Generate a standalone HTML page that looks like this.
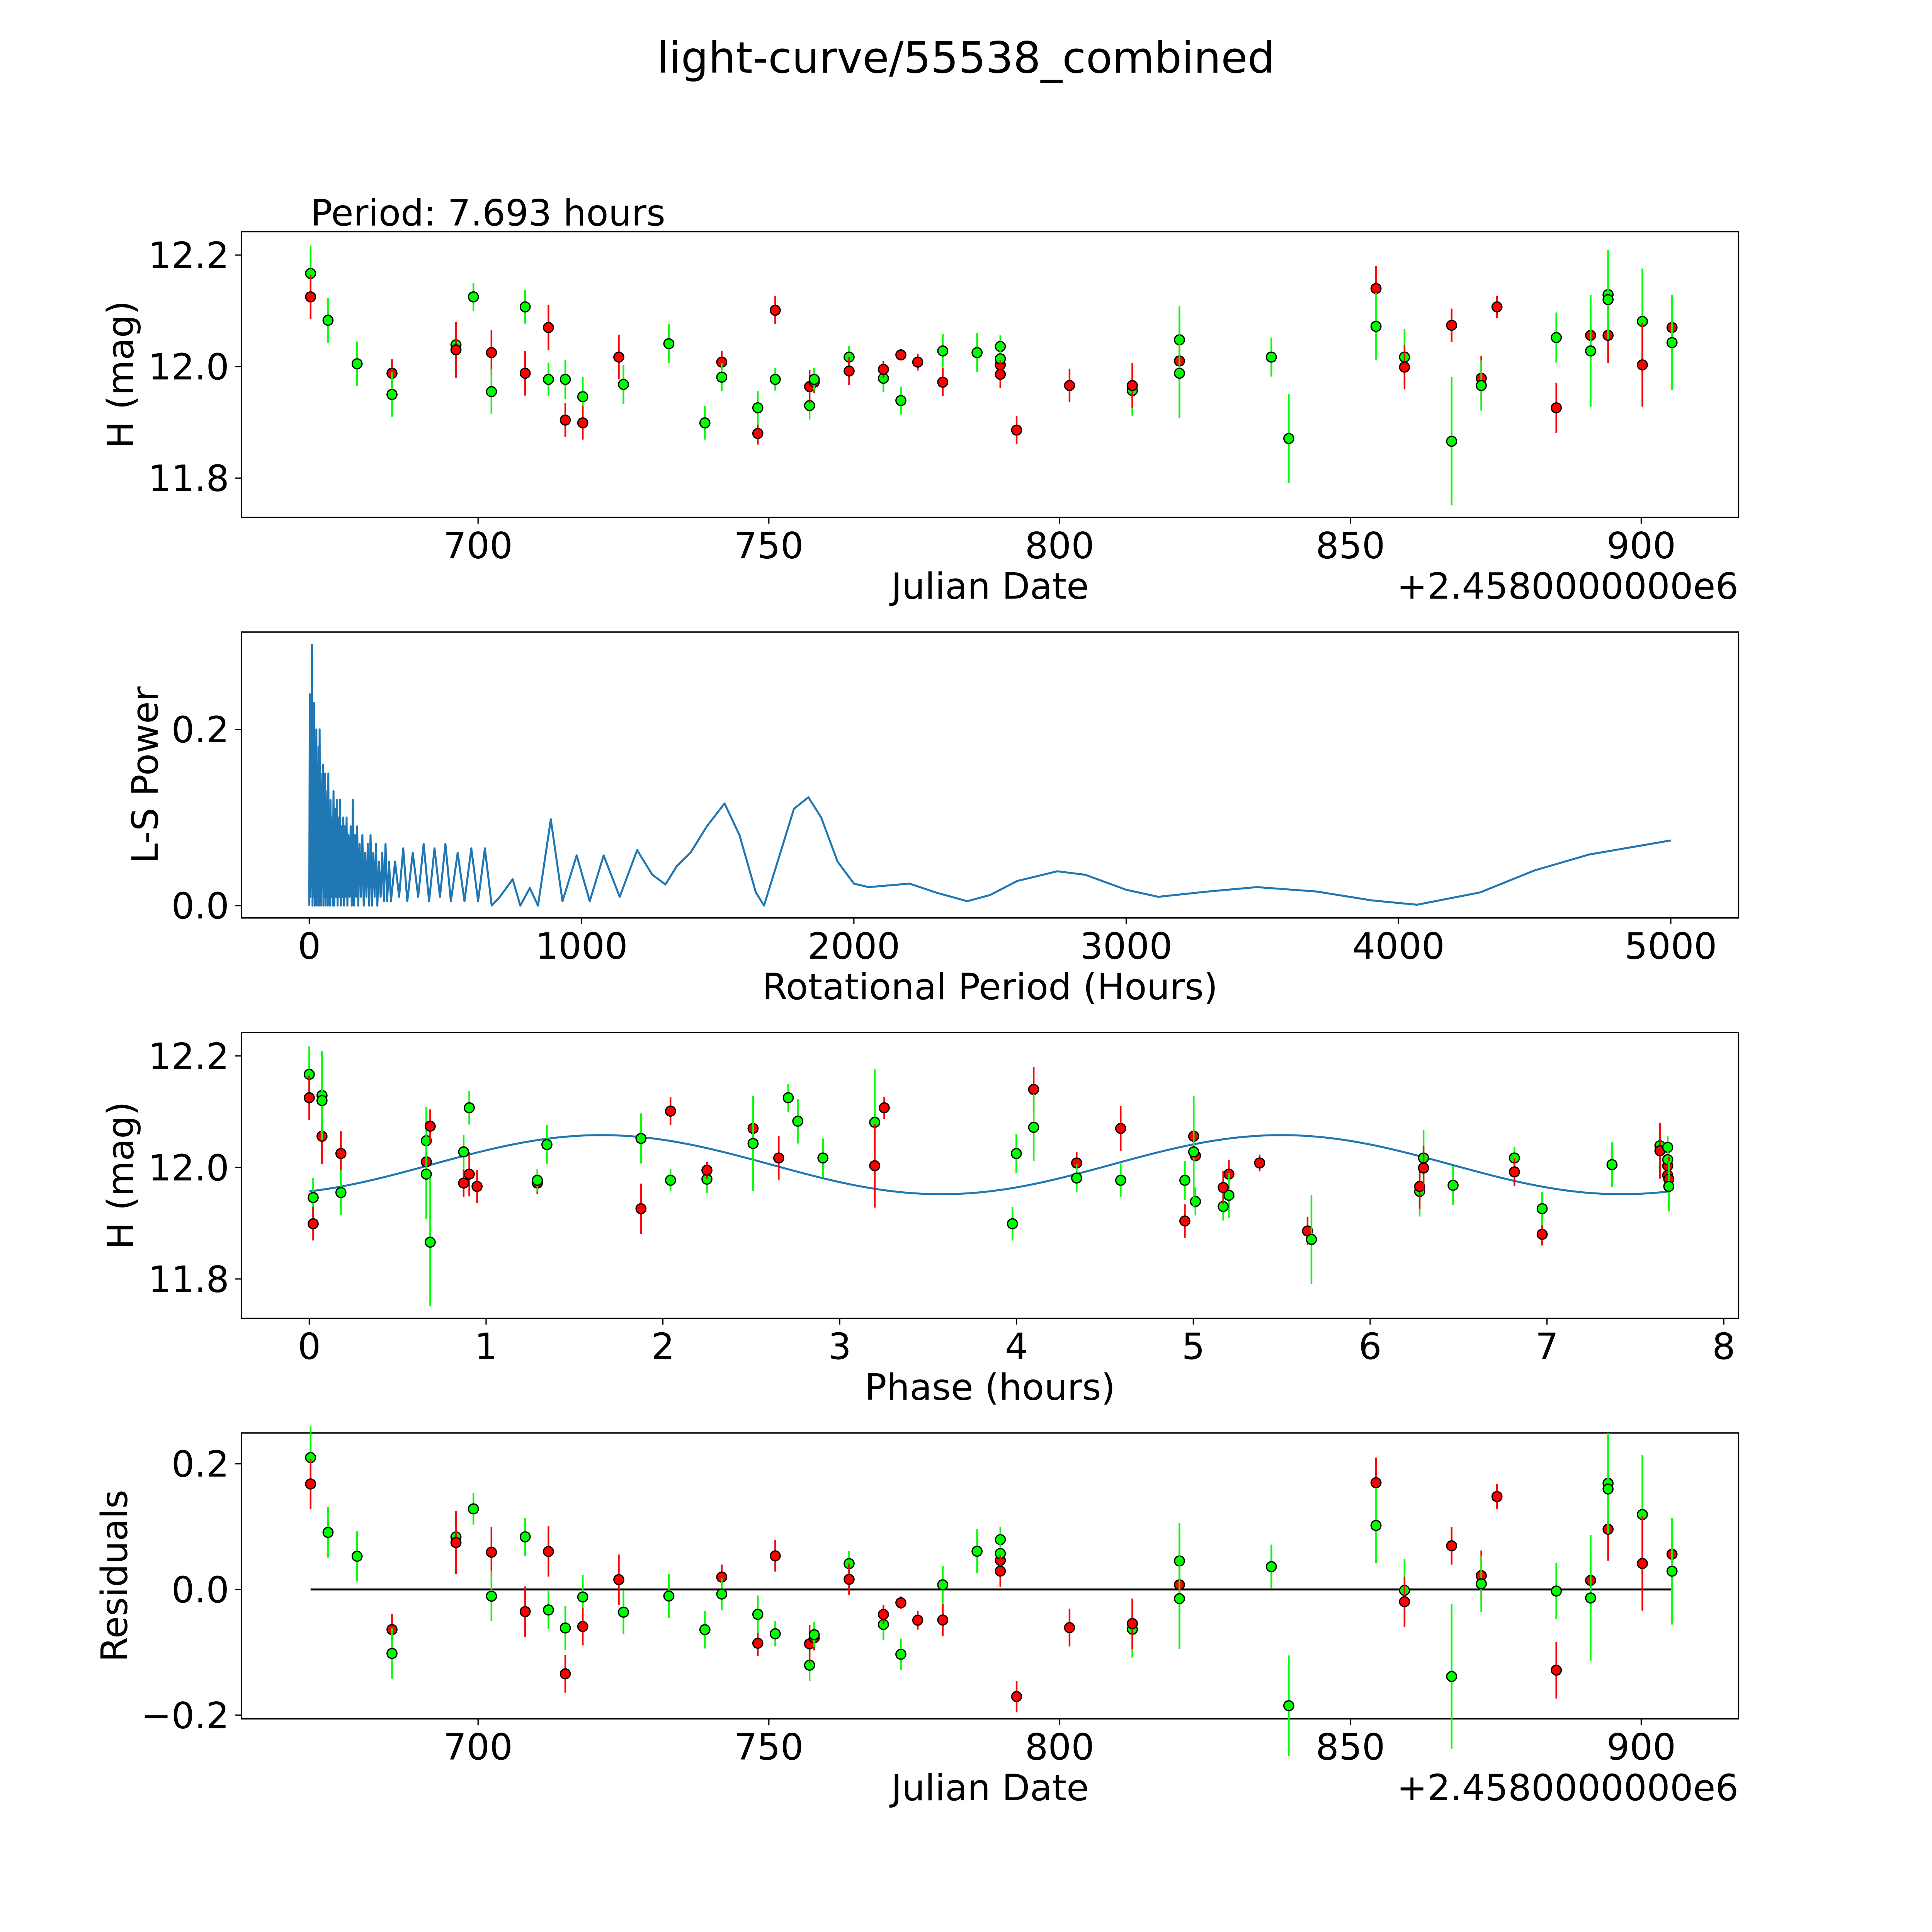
<!DOCTYPE html>
<html><head><meta charset="utf-8">
<style>
html,body{margin:0;padding:0;background:#fff;overflow:hidden;width:100vw;height:100vh;}
svg{display:block;position:fixed;left:0;top:0;width:100vw;height:100vh;font-family:"DejaVu Sans","Liberation Sans",sans-serif;}
</style></head>
<body>
<svg id="fig" viewBox="0 0 1568 1568" preserveAspectRatio="none" xmlns="http://www.w3.org/2000/svg">
<rect width="1568" height="1568" fill="#fff"/>
<text x="784" y="59" font-size="35" text-anchor="middle">light-curve/55538_combined</text>
<g id="plots"></g>
</svg>
<script>
// ---- observation data (Julian Date offset from 2458000, H mag, error, band colour) ----
const obsJD  = [671.2,671.2,674.2,679.2,685.2,685.2,696.2,696.2,699.2,702.3,702.3,708.1,708.1,712.1,712.1,715.0,715.0,718.0,718.0,724.2,725.0,732.8,739.0,741.9,741.9,748.1,748.1,751.1,751.1,757.0,757.0,757.8,757.8,763.8,763.8,769.7,769.7,772.7,772.7,775.6,779.9,779.9,785.8,789.8,789.8,789.8,789.8,792.6,801.7,812.5,812.5,820.6,820.6,820.6,836.4,839.4,854.4,854.4,859.3,859.3,867.4,867.4,872.5,872.5,875.2,885.4,885.4,891.3,891.3,894.3,894.3,894.3,900.2,900.2,905.3,905.3];
const obsMag = [12.167,12.125,12.083,12.005,11.988,11.950,12.039,12.030,12.125,12.025,11.955,12.107,11.988,12.070,11.977,11.977,11.904,11.946,11.899,12.017,11.968,12.041,11.899,12.008,11.981,11.880,11.926,12.101,11.977,11.930,11.964,11.972,11.977,12.017,11.992,11.979,11.995,12.021,11.939,12.008,12.028,11.972,12.025,12.003,12.036,12.014,11.986,11.886,11.966,11.957,11.966,12.048,12.010,11.988,12.017,11.871,12.140,12.072,12.017,11.999,12.074,11.866,11.979,11.966,12.107,12.052,11.926,12.056,12.028,12.056,12.129,12.120,12.081,12.003,12.070,12.043];
const obsErr = [0.05,0.04,0.04,0.04,0.025,0.04,0.04,0.05,0.025,0.04,0.04,0.03,0.04,0.04,0.03,0.035,0.03,0.035,0.03,0.04,0.035,0.035,0.03,0.02,0.025,0.02,0.03,0.025,0.02,0.025,0.03,0.02,0.02,0.02,0.025,0.025,0.015,0.01,0.025,0.015,0.03,0.025,0.035,0.02,0.02,0.03,0.025,0.025,0.03,0.045,0.04,0.06,0.035,0.08,0.035,0.08,0.04,0.06,0.05,0.04,0.03,0.115,0.04,0.045,0.02,0.045,0.045,0.045,0.10,0.05,0.08,0.03,0.095,0.075,0.055,0.085];
const obsBand = ["g","r","g","g","r","g","g","r","g","r","g","g","r","r","g","g","r","g","r","r","g","g","g","r","g","r","g","r","g","g","r","r","g","g","r","g","r","r","g","r","g","r","g","r","g","g","r","r","r","g","r","g","r","g","g","g","r","g","g","r","r","g","r","g","r","g","r","r","g","r","g","g","g","r","r","g"];
// ---- periodogram (period in hours, L-S power) ----
const lsPeriod = [0,2,4,6,8,10,12,14,16,18,20,22,24,26,28,30,32,34,36,38,40,42,44,46,48,50,52,54,56,58,60,62,64,66,68,70,72,74,76,78,80,83,86,89,92,95,98,101,104,107,110,113,116,119,122,125,128,131,134,137,140,144,148,152,156,160,164,168,172,176,180,185,190,195,200,205,210,215,220,225,230,235,240,245,250,256,262,268,274,280,286,293,300,315,330,345,360,380,400,420,440,460,480,500,520,545,570,595,620,645,670,700,747,775,810,840,887,930,982,1030,1081,1140,1204,1260,1308,1350,1400,1460,1525,1580,1640,1670,1720,1780,1833,1880,1940,2000,2054,2130,2204,2300,2416,2500,2600,2747,2850,3000,3118,3300,3480,3700,3900,4068,4300,4500,4700,5000];
const lsPower  = [0,0.24,0.01,0.2,0.02,0.296,0.0,0.22,0.01,0.23,0.0,0.19,0.02,0.2,0.0,0.16,0.01,0.18,0.0,0.2,0.01,0.15,0.0,0.14,0.02,0.16,0.0,0.13,0.01,0.15,0.0,0.12,0.01,0.13,0.0,0.15,0.01,0.11,0.0,0.12,0.01,0.1,0.0,0.13,0.0,0.11,0.01,0.12,0.0,0.1,0.01,0.12,0.0,0.09,0.01,0.1,0.0,0.09,0.01,0.1,0.0,0.08,0.01,0.09,0.0,0.12,0.0,0.08,0.01,0.09,0.0,0.07,0.01,0.08,0.0,0.06,0.01,0.07,0.0,0.08,0.0,0.06,0.01,0.07,0.0,0.05,0.01,0.06,0.005,0.07,0.005,0.05,0.005,0.05,0.01,0.065,0.005,0.06,0.01,0.07,0.005,0.065,0.01,0.07,0.005,0.06,0.005,0.065,0.005,0.065,0.0,0.01,0.03,0.0,0.02,0.0,0.098,0.005,0.057,0.005,0.057,0.01,0.063,0.035,0.024,0.045,0.06,0.09,0.116,0.08,0.015,0.0,0.05,0.11,0.123,0.1,0.05,0.025,0.021,0.023,0.025,0.015,0.005,0.012,0.028,0.039,0.035,0.018,0.010,0.016,0.021,0.016,0.006,0.001,0.015,0.04,0.058,0.074];
// ---- fit parameters ----
const periodHours = [7.693];
const fitParams = [12.005, 0.053, 0.69]; // mean, amplitude, phase offset (hours)
const jdTicks = [700,750,800,850,900];
const magTicks = [11.8,12.0,12.2];
const lsXTicks = [0,1000,2000,3000,4000,5000];
const lsYTicks = [0.0,0.2];
const phaseTicks = [0,1,2,3,4,5,6,7,8];
const resTicks = [-0.2,0.0,0.2];

const NS="http://www.w3.org/2000/svg";
const root=document.getElementById('plots');
function el(tag,attrs,parent){const e=document.createElementNS(NS,tag);for(const k in attrs)e.setAttribute(k,attrs[k]);(parent||root).appendChild(e);return e;}
const AX_L=196, AX_R=1411, FS=29.5;
function lin(d0,d1,r0,r1){return v=>r0+(v-d0)*(r1-r0)/(d1-d0);}

function makeAxes(name,top,bottom,xs,ys,xt,yt,xfmt,yfmt,xlabel,ylabel,ylabX){
  const g=el('g',{});
  
  
  const box=el('rect',{x:AX_L,y:top,width:AX_R-AX_L,height:bottom-top,fill:'none',stroke:'#000','stroke-width':1.1},g);
  
  
  xt.forEach(v=>{const x=xs(v);
    el('line',{x1:x,x2:x,y1:bottom,y2:bottom+5,stroke:'#000','stroke-width':1},g);
    const t=el('text',{x:x,y:bottom+33,'font-size':FS,'text-anchor':'middle'},g);t.textContent=xfmt(v);
    
    });
  yt.forEach(v=>{const y=ys(v);
    el('line',{x1:AX_L-5,x2:AX_L,y1:y,y2:y,stroke:'#000','stroke-width':1},g);
    const t=el('text',{x:AX_L-10,y:y+10.5,'font-size':FS,'text-anchor':'end'},g);t.textContent=yfmt(v);
    
    });
  const xl=el('text',{x:(AX_L+AX_R)/2,y:bottom+66,'font-size':FS,'text-anchor':'middle'},g);xl.textContent=xlabel;
  
  
  const cy=(top+bottom)/2;
  const yl=el('text',{x:ylabX,y:cy,'font-size':FS,'text-anchor':'middle',transform:`rotate(-90 ${ylabX} ${cy})`},g);yl.textContent=ylabel;
  
  
  return g;
}
function offsetText(g,bottom){const t=el('text',{x:AX_R,y:bottom+66,'font-size':FS,'text-anchor':'end'},g);t.textContent='+2.4580000000e6';
  
  }
function col(b){return b==='g'?'#00ff00':'#ff0000';}
function point(g,x,y,e1,e2,b){
  const c=col(b);
  const l=el('line',{x1:x,x2:x,y1:e1,y2:e2,stroke:c,'stroke-width':1.4},g);
  
  
  const p=el('circle',{cx:x,cy:y,r:4,fill:c,stroke:'#000','stroke-width':1},g);
  
  
}
function model(ph){return fitParams[0]+fitParams[1]*Math.sin(2*Math.PI*(ph-fitParams[2])/(periodHours[0]/2));}
const t0=obsJD[0];
const phases=obsJD.map(j=>(((j-t0)*24)%periodHours[0]+periodHours[0])%periodHours[0]);
const mfmt=v=>v.toFixed(1);

// Panel 1: light curve vs JD
const x1=lin(700,900,388,1332), y1=lin(12.2,11.8,207,388);
const g1=makeAxes('light-curve-axes',188,420,x1,y1,jdTicks,magTicks,v=>String(v),mfmt,'Julian Date','H (mag)',108);
offsetText(g1,420);
const per=el('text',{x:252,y:183,'font-size':FS},g1);per.textContent='Period: '+periodHours[0].toFixed(3)+' hours';


obsJD.forEach((j,i)=>point(g1,x1(j),y1(obsMag[i]),y1(obsMag[i]+obsErr[i]),y1(obsMag[i]-obsErr[i]),obsBand[i]));

// Panel 2: periodogram
const x2=lin(0,5000,251,1356), y2=lin(0,0.2,735,592);
const g2=makeAxes('periodogram-axes',513,745,x2,y2,lsXTicks,lsYTicks,v=>String(v),mfmt,'Rotational Period (Hours)','L-S Power',128);
const ls=el('path',{d:lsPeriod.map((p,i)=>(i?'L':'M')+x2(p).toFixed(2)+' '+y2(lsPower[i]).toFixed(2)).join(''),fill:'none',stroke:'#1f77b4','stroke-width':1.6,'stroke-linejoin':'round'},g2);



// Panel 3: phased light curve
const x3=lin(0,8,251,1399), y3=lin(12.2,11.8,857,1038);
const g3=makeAxes('phase-curve-axes',838,1070,x3,y3,phaseTicks,magTicks,v=>String(v),mfmt,'Phase (hours)','H (mag)',108);
let d='';for(let k=0;k<=200;k++){const ph=periodHours[0]*k/200;d+=(k?'L':'M')+x3(ph).toFixed(2)+' '+y3(model(ph)).toFixed(2);}
const fl=el('path',{d:d,fill:'none',stroke:'#1f77b4','stroke-width':1.6},g3);


phases.forEach((ph,i)=>point(g3,x3(ph),y3(obsMag[i]),y3(obsMag[i]+obsErr[i]),y3(obsMag[i]-obsErr[i]),obsBand[i]));

// Panel 4: residuals
const y4=lin(0.2,-0.2,1188,1392);
const g4=makeAxes('residuals-axes',1163,1395,x1,y4,jdTicks,resTicks,v=>String(v),v=>(v<0?'\u22120.2':v.toFixed(1)),'Julian Date','Residuals',103);
offsetText(g4,1395);
const zl=el('line',{x1:x1(obsJD[0]),x2:x1(obsJD[obsJD.length-1]),y1:y4(0),y2:y4(0),stroke:'#000','stroke-width':1.6},g4);


obsJD.forEach((j,i)=>{const r=obsMag[i]-model(phases[i]);point(g4,x1(j),y4(r),y4(r+obsErr[i]),y4(r-obsErr[i]),obsBand[i]);});
</script>
</body></html>
